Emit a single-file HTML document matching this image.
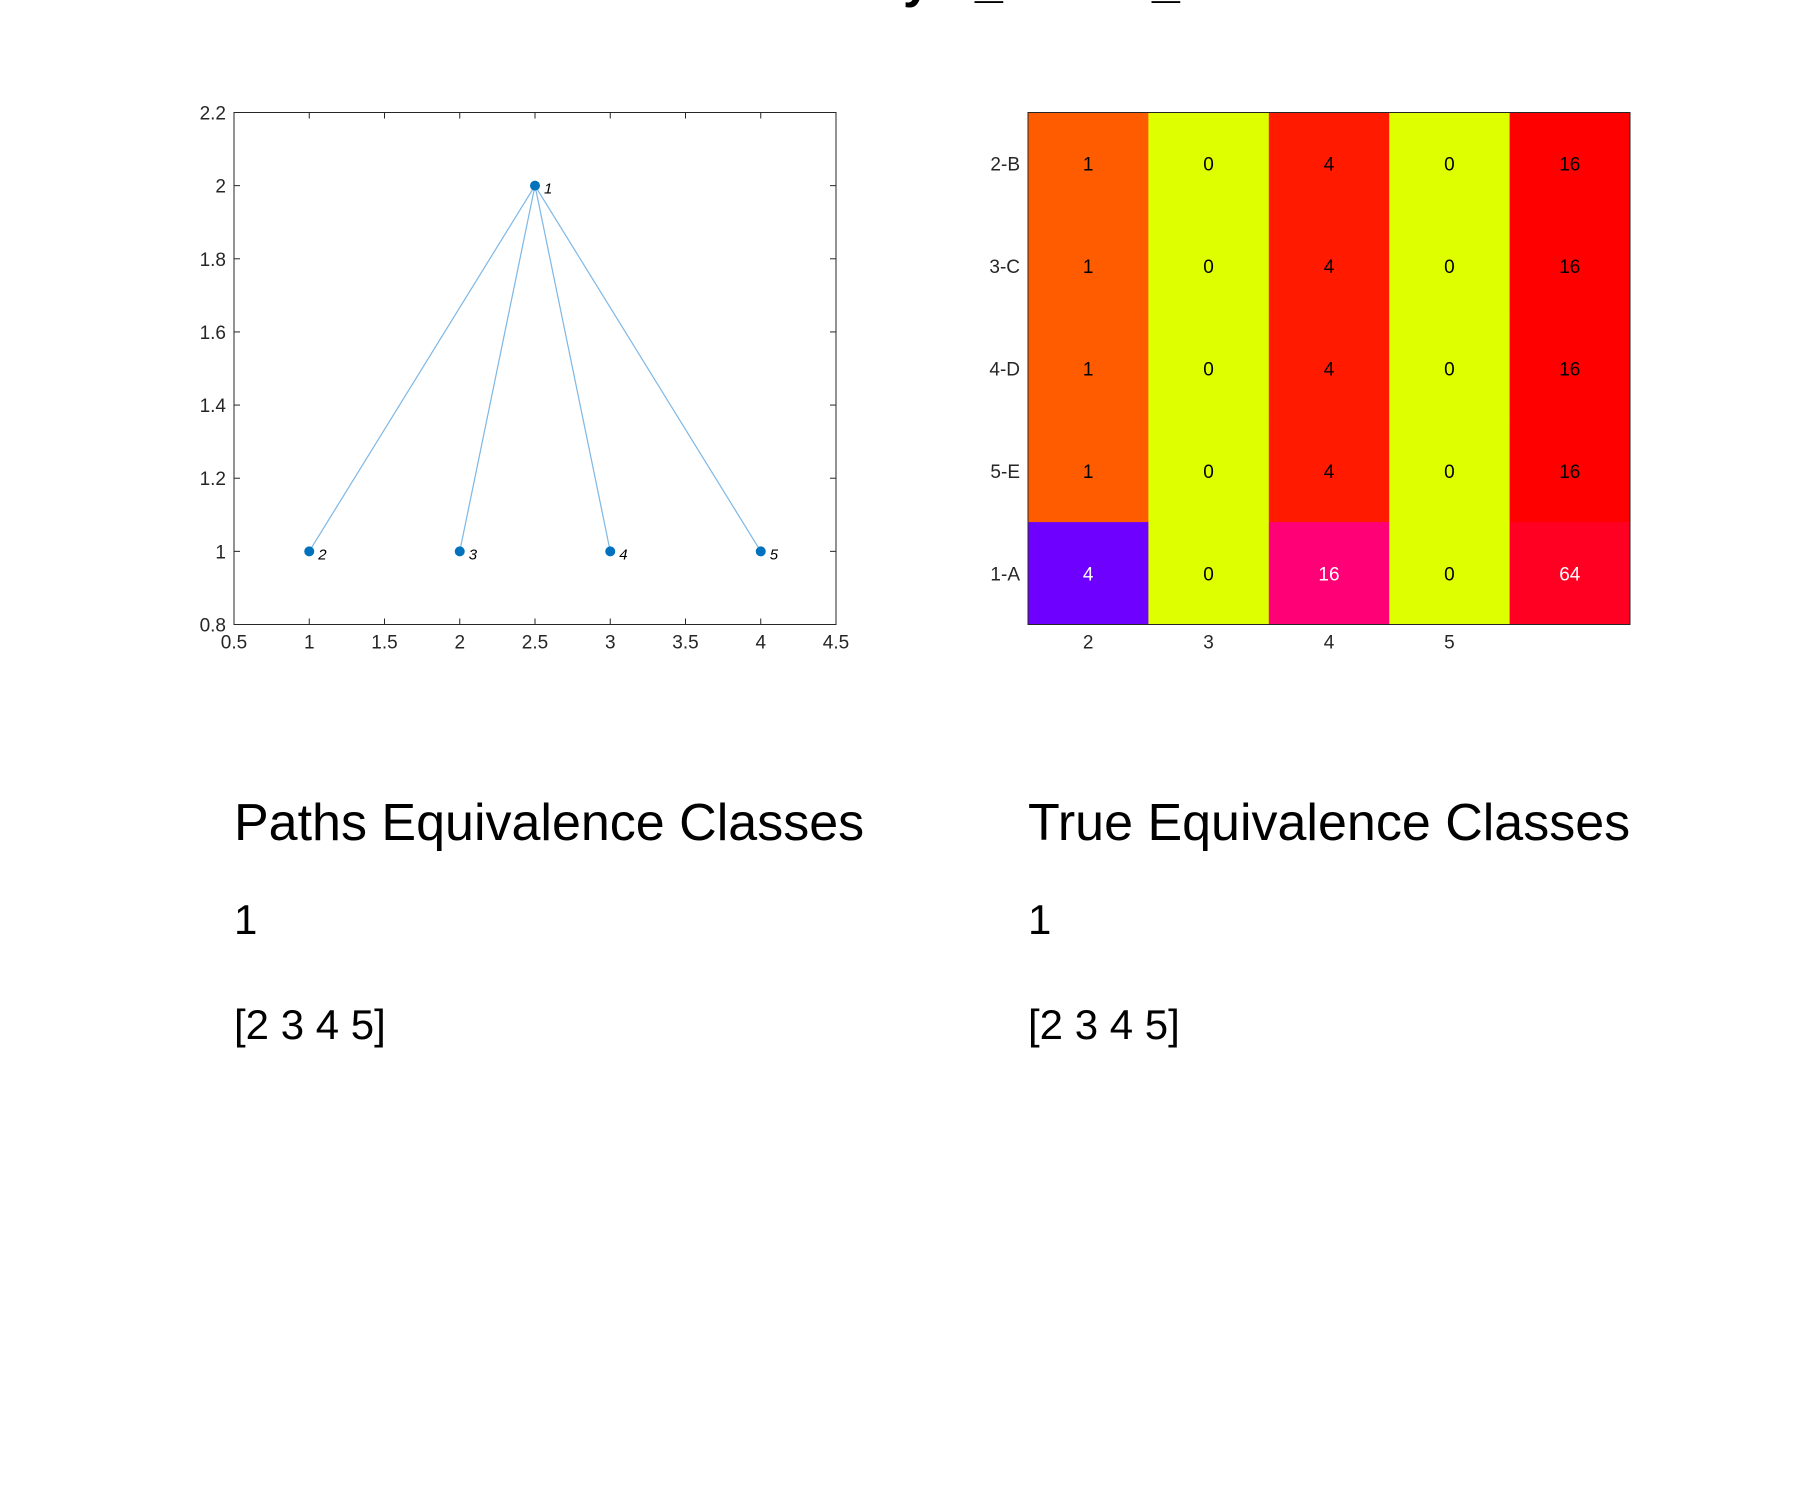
<!DOCTYPE html>
<html><head><meta charset="utf-8">
<style>
html,body{margin:0;padding:0;background:#fff;}
body{width:1800px;height:1500px;position:relative;overflow:hidden;font-family:"Liberation Sans",sans-serif;}
.big{position:absolute;font-size:52px;color:#000;line-height:1;white-space:nowrap;}
.mid{position:absolute;font-size:42px;color:#000;line-height:1;white-space:nowrap;}
.tt{position:absolute;font-weight:bold;font-size:50px;line-height:1;top:-45px;}
</style></head><body>
<span class="tt" style="left:903px">y</span>
<span class="tt" style="left:975px">_</span>
<span class="tt" style="left:1152px">_</span>

<svg id="chart" width="1800" height="1500" style="position:absolute;left:0;top:0"></svg>

<div class="big" style="left:234px;top:797px">Paths Equivalence Classes</div>
<div class="mid" style="left:234px;top:899px">1</div>
<div class="mid" style="left:234px;top:1004px">[2 3 4 5]</div>
<div class="big" style="left:1028px;top:797px">True Equivalence Classes</div>
<div class="mid" style="left:1028px;top:899px">1</div>
<div class="mid" style="left:1028px;top:1004px">[2 3 4 5]</div>

<script>
const nodeIds = ['1','2','3','4','5'];
const nodeX = [2.5, 1, 2, 3, 4];
const nodeY = [2, 1, 1, 1, 1];
const edgeFrom = [0, 0, 0, 0];
const edgeTo = [1, 2, 3, 4];
const xTicks = [0.5,1,1.5,2,2.5,3,3.5,4,4.5];
const yTicks = [0.8,1,1.2,1.4,1.6,1.8,2,2.2];
const hmRows = ['2-B','3-C','4-D','5-E','1-A'];
const hmColLabels = ['2','3','4','5',''];
const hmValues = [[1,0,4,0,16],[1,0,4,0,16],[1,0,4,0,16],[1,0,4,0,16],[4,0,16,0,64]];
const hmColors = [['#ff5c00','#deff00','#ff1a00','#deff00','#ff0000'],
 ['#ff5c00','#deff00','#ff1a00','#deff00','#ff0000'],
 ['#ff5c00','#deff00','#ff1a00','#deff00','#ff0000'],
 ['#ff5c00','#deff00','#ff1a00','#deff00','#ff0000'],
 ['#6e00ff','#deff00','#ff0077','#deff00','#ff0022']];
const hmTextColors = [['#000','#000','#000','#000','#000'],['#000','#000','#000','#000','#000'],['#000','#000','#000','#000','#000'],['#000','#000','#000','#000','#000'],['#fff','#000','#fff','#000','#fff']];

const NS='http://www.w3.org/2000/svg';
const svg=document.getElementById('chart');
function mk(tag,attrs,parent){const e=document.createElementNS(NS,tag);for(const k in attrs)e.setAttribute(k,attrs[k]);(parent||svg).appendChild(e);return e;}
const L=234,R=836,T=112.5,B=624.5;
const sx=v=>L+(v-0.5)/(4.5-0.5)*(R-L);
const sy=v=>B-(v-0.8)/(2.2-0.8)*(B-T);

const g1=mk('g',{});


const frame=mk('rect',{x:L,y:T,width:R-L,height:B-T,fill:'#fff',stroke:'#262626','stroke-width':1},g1);


xTicks.forEach(t=>{
  const x=sx(t);
  mk('line',{x1:x,y1:B,x2:x,y2:B-6,stroke:'#262626'},g1);
  mk('line',{x1:x,y1:T,x2:x,y2:T+6,stroke:'#262626'},g1);
  const tx=mk('text',{x:x,y:B+24,'text-anchor':'middle','font-size':19,fill:'#262626'},g1);
  tx.textContent=String(t);
  
  
});
yTicks.forEach(t=>{
  const y=sy(t);
  mk('line',{x1:L,y1:y,x2:L+6,y2:y,stroke:'#262626'},g1);
  mk('line',{x1:R,y1:y,x2:R-6,y2:y,stroke:'#262626'},g1);
  const tx=mk('text',{x:L-8,y:y+7,'text-anchor':'end','font-size':19,fill:'#262626'},g1);
  tx.textContent=String(t);
  
  
});
edgeFrom.forEach((f,i)=>{
  const t=edgeTo[i];
  const ln=mk('line',{x1:sx(nodeX[f]),y1:sy(nodeY[f]),x2:sx(nodeX[t]),y2:sy(nodeY[t]),stroke:'#7db7e5','stroke-width':1.2},g1);
  
  
});
nodeIds.forEach((id,i)=>{
  const c=mk('circle',{cx:sx(nodeX[i]),cy:sy(nodeY[i]),r:5,fill:'#0072bd'},g1);
  
  
  const tx=mk('text',{x:sx(nodeX[i])+9,y:sy(nodeY[i])+8,'font-size':15,'font-style':'italic',fill:'#000'},g1);
  tx.textContent=id;
  
  
});

const HL=1028,HR=1630,HT=112.5,HB=624.5;
const cw=(HR-HL)/hmColLabels.length, ch=(HB-HT)/hmRows.length;
const g2=mk('g',{});


hmValues.forEach((row,r)=>{
  row.forEach((v,c)=>{
    const cell=mk('rect',{x:HL+c*cw,y:HT+r*ch,width:cw+0.5,height:ch+0.5,fill:hmColors[r][c]},g2);
    
    
    const tx=mk('text',{x:HL+(c+0.5)*cw,y:HT+(r+0.5)*ch+7,'text-anchor':'middle','font-size':19,fill:hmTextColors[r][c]},g2);
    tx.textContent=String(v);
    
    
  });
  const tl=mk('text',{x:HL-8,y:HT+(r+0.5)*ch+7,'text-anchor':'end','font-size':19,fill:'#262626'},g2);
  tl.textContent=hmRows[r];
  
  
});
hmColLabels.forEach((l,c)=>{
  const tx=mk('text',{x:HL+(c+0.5)*cw,y:HB+24,'text-anchor':'middle','font-size':19,fill:'#262626'},g2);
  tx.textContent=l;
  
  
});
const hf=mk('rect',{x:HL,y:HT,width:HR-HL,height:HB-HT,fill:'none',stroke:'#262626','stroke-width':1},g2);


</script>
</body></html>
